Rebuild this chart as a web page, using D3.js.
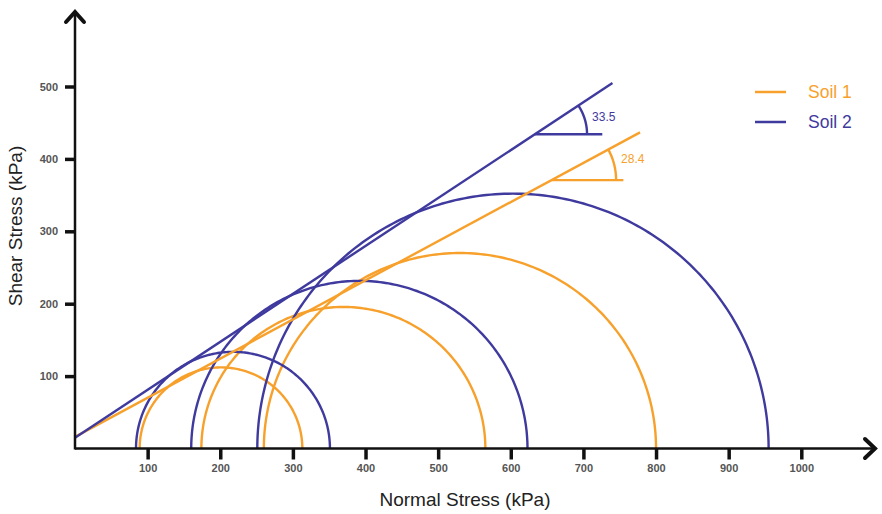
<!DOCTYPE html>
<html>
<head>
<meta charset="utf-8">
<script src="https://cdn.jsdelivr.net/npm/d3@7/dist/d3.min.js"></script>
<style>
  html, body { margin: 0; padding: 0; background: #fff; }
  svg { display: block; font-family: "Liberation Sans", Arial, Helvetica, sans-serif; }
</style>
</head>
<body>
<svg id="chart" width="882" height="514"></svg>
<script>
// Mohr circles (kPa): minor and major principal stresses for each test
const soilNames = ["Soil 1", "Soil 2"];
const soil1Sigma3 = [89, 174, 260];
const soil1Sigma1 = [313, 565, 800];
const soil2Sigma3 = [84, 160, 251];
const soil2Sigma1 = [351, 623, 955];

// Failure envelopes: cohesion (kPa), friction angle (deg), envelope end (kPa)
const cohesion = [16, 15];
const frictionAngle = [28.4, 33.5];
const envelopeEnd = [778, 740];

// Angle markers: vertex on envelope, end of horizontal leg, arc radius (kPa)
const markerVertex = [656, 633];
const markerLegEnd = [755, 726];
const markerArcRadius = [89, 72];

const xTicks = [100, 200, 300, 400, 500, 600, 700, 800, 900, 1000];
const yTicks = [100, 200, 300, 400, 500];

const colors = ["#F7A12C", "#3F3A9E"];

const svg = d3.select("#chart");
const x = d3.scaleLinear().domain([0, 1000]).range([75, 801.3]);
const y = d3.scaleLinear().domain([0, 500]).range([448.5, 86.5]);

const rad = d => d * Math.PI / 180;

// ---- Mohr circles ----
const line = d3.line().x(d => x(d[0])).y(d => y(d[1]));
function semicircle(s3, s1) {
  const c = (s1 + s3) / 2, r = (s1 - s3) / 2;
  return d3.range(0, 181, 1).map(a => [c + r * Math.cos(rad(180 - a)), r * Math.sin(rad(180 - a))]);
}
const circles = [];
soil1Sigma3.forEach((s3, i) => circles.push({ soil: 0, s3, s1: soil1Sigma1[i] }));
soil2Sigma3.forEach((s3, i) => circles.push({ soil: 1, s3, s1: soil2Sigma1[i] }));

const g = svg.append("g");
g.selectAll("path.mohr")
  .data(circles)
  .join("path")
  .attr("class", "mohr")
  .attr("d", d => line(semicircle(d.s3, d.s1)))
  .attr("fill", "none")
  .attr("stroke", d => colors[d.soil])
  .attr("stroke-width", 2.4);

// ---- Failure envelopes ----
const envelopes = [0, 1].map(i => ({
  i,
  pts: [[0, cohesion[i]], [envelopeEnd[i], cohesion[i] + envelopeEnd[i] * Math.tan(rad(frictionAngle[i]))]]
}));
g.selectAll("path.env")
  .data(envelopes)
  .join("path")
  .attr("class", "env")
  .attr("d", d => line(d.pts))
  .attr("fill", "none")
  .attr("stroke", d => colors[d.i])
  .attr("stroke-width", 2.4);

// ---- Angle markers ----
[0, 1].forEach(i => {
  const vx = markerVertex[i];
  const vy = cohesion[i] + vx * Math.tan(rad(frictionAngle[i]));
  const r = markerArcRadius[i];
  g.append("path")
    .attr("d", line([[vx, vy], [markerLegEnd[i], vy]]))
    .attr("fill", "none").attr("stroke", colors[i]).attr("stroke-width", 2.4);
  const arc = d3.range(0, frictionAngle[i] + 0.01, 0.5).map(a => [vx + r * Math.cos(rad(a)), vy + r * Math.sin(rad(a))]);
  g.append("path")
    .attr("d", line(arc))
    .attr("fill", "none").attr("stroke", colors[i]).attr("stroke-width", 2.4);
  g.append("text")
    .attr("x", x(vx + r) + 5)
    .attr("y", y(vy + r * 0.26))
    .attr("font-size", 12)
    .attr("fill", colors[i])
    .text(frictionAngle[i].toFixed(1));
});

// ---- Axes ----
const axisColor = "#111";
const ax = svg.append("g");
ax.append("line").attr("x1", x(0)).attr("y1", y(0)).attr("x2", 873).attr("y2", y(0))
  .attr("stroke", axisColor).attr("stroke-width", 2.5);
ax.append("line").attr("x1", x(0)).attr("y1", y(0) + 1).attr("x2", x(0)).attr("y2", 13)
  .attr("stroke", axisColor).attr("stroke-width", 2.5);
// arrow heads
ax.append("path")
  .attr("d", `M${x(0) - 9},${22} L${x(0)},${12} L${x(0) + 9},${22}`)
  .attr("fill", "none").attr("stroke", axisColor).attr("stroke-width", 4)
  .attr("stroke-linejoin", "miter").attr("stroke-linecap", "round");
ax.append("path")
  .attr("d", `M${865},${y(0) - 9.5} L${875},${y(0)} L${865},${y(0) + 9.5}`)
  .attr("fill", "none").attr("stroke", axisColor).attr("stroke-width", 4)
  .attr("stroke-linejoin", "miter").attr("stroke-linecap", "round");

const xAxis = svg.append("g")
  .attr("transform", `translate(0,${y(0)})`)
  .call(d3.axisBottom(x).tickValues(xTicks).tickFormat(d3.format("d")).tickSize(11).tickPadding(5));
xAxis.select(".domain").remove();
xAxis.selectAll(".tick line").attr("stroke", axisColor).attr("stroke-width", 3.5);
xAxis.selectAll(".tick text")
  .attr("font-size", 11).attr("font-weight", "bold")
  .attr("font-family", "Liberation Sans, Arial, sans-serif")
  .attr("fill", "#555").attr("y", 16).attr("dy", "0.71em");

const yAxis = svg.append("g")
  .attr("transform", `translate(${x(0)},0)`)
  .call(d3.axisLeft(y).tickValues(yTicks).tickFormat(d3.format("d")).tickSize(10).tickPadding(7));
yAxis.select(".domain").remove();
yAxis.selectAll(".tick line").attr("stroke", axisColor).attr("stroke-width", 3.5);
yAxis.selectAll(".tick text")
  .attr("font-size", 11).attr("font-weight", "bold")
  .attr("font-family", "Liberation Sans, Arial, sans-serif")
  .attr("fill", "#555");

// ---- Axis titles ----
svg.append("text")
  .attr("x", 465).attr("y", 506)
  .attr("text-anchor", "middle")
  .attr("font-size", 19).attr("fill", "#222")
  .text("Normal Stress (kPa)");
svg.append("text")
  .attr("transform", "translate(22,226) rotate(-90)")
  .attr("text-anchor", "middle")
  .attr("font-size", 19).attr("fill", "#222")
  .text("Shear Stress (kPa)");

// ---- Legend ----
const legend = svg.append("g");
soilNames.forEach((name, i) => {
  const ly = 92 + i * 30;
  legend.append("line").attr("x1", 755).attr("x2", 786).attr("y1", ly).attr("y2", ly)
    .attr("stroke", colors[i]).attr("stroke-width", 2.5);
  legend.append("text").attr("x", 808).attr("y", ly + 6)
    .attr("font-size", 17.5).attr("fill", colors[i]).text(name);
});
</script>
</body>
</html>
